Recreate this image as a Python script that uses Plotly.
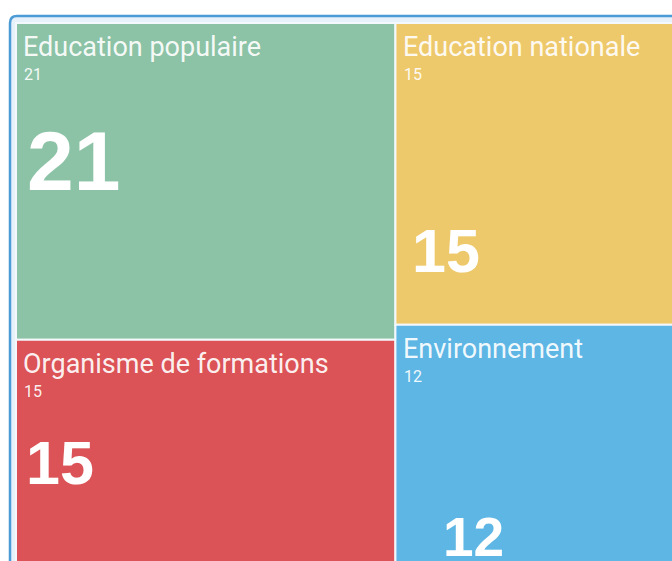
import plotly.graph_objects as go

# ---- data ----
labels = ["Education populaire", "Organisme de formations", "Education nationale", "Environnement"]
values = [21, 15, 15, 12]
colors = ["#8cc3a6", "#db5356", "#eec96b", "#5db6e4"]

# ---- geometry (pixels) ----
W, H = 690, 575
ML, MR, MT, MB = 16, 10, 23, 9
PW, PH = W - ML - MR, H - MT - MB


def px(x):
    return (x - ML) / PW


def py(y):
    return 1 - (y - MT) / PH


fig = go.Figure(
    go.Treemap(
        labels=labels,
        parents=[""] * len(labels),
        values=values,
        sort=True,
        marker=dict(colors=colors, line=dict(width=2, color="#f3f8fc"),
                    pad=dict(t=0, l=0, r=0, b=0)),
        tiling=dict(pad=0),
        pathbar=dict(visible=False),
        textinfo="none",
        hoverinfo="label+value",
    )
)

# container with rounded top-left corner
r = 7
x0, y0, x1, y1 = 10, 16, 760, 650
path = (
    f"M {px(x0)} {py(y1)} L {px(x0)} {py(y0 + r)} "
    f"Q {px(x0)} {py(y0)} {px(x0 + r)} {py(y0)} "
    f"L {px(x1)} {py(y0)} L {px(x1)} {py(y1)} Z"
)
fig.add_shape(
    type="path", path=path, xref="paper", yref="paper",
    line=dict(color="#4a9bd6", width=2.5), fillcolor="#e7f1fa", layer="below",
)

# tile text placement (pixel styles): tile origin, big number centre and size
tile_origin = {
    "Education populaire": (16, 23),
    "Organisme de formations": (16, 340),
    "Education nationale": (396, 23),
    "Environnement": (396, 325),
}
big_pos = {
    "Education populaire": (73, 161, 84),
    "Education nationale": (446, 251, 61),
    "Organisme de formations": (60, 463, 61),
    "Environnement": (473, 537, 55),
}
txt_col = "rgba(255,255,255,0.93)"
for lab, val in zip(labels, values):
    ox, oy = tile_origin[lab]
    fig.add_annotation(
        x=px(ox + 5), y=py(oy + 6), xref="paper", yref="paper",
        text=lab, showarrow=False, xanchor="left", yanchor="top",
        font=dict(family="Roboto", size=27, color=txt_col),
    )
    fig.add_annotation(
        x=px(ox + 6), y=py(oy + 40), xref="paper", yref="paper",
        text=str(val), showarrow=False, xanchor="left", yanchor="top",
        font=dict(family="Roboto", size=16, color=txt_col),
    )
    cx, cy, fs = big_pos[lab]
    fig.add_annotation(
        x=px(cx), y=py(cy), xref="paper", yref="paper",
        text=f"<b>{val}</b>", showarrow=False,
        xanchor="center", yanchor="middle",
        font=dict(family="Liberation Sans, Arial", size=fs, color="white"),
    )

fig.update_layout(
    width=W, height=H,
    margin=dict(l=ML, r=MR, t=MT, b=MB),
    paper_bgcolor="white",
    showlegend=False,
)

fig.write_html(
    "out.html",
    config={"displayModeBar": False},
    post_script="document.body.style.margin='0';document.body.style.overflow='hidden';document.documentElement.style.overflow='hidden';",
)
